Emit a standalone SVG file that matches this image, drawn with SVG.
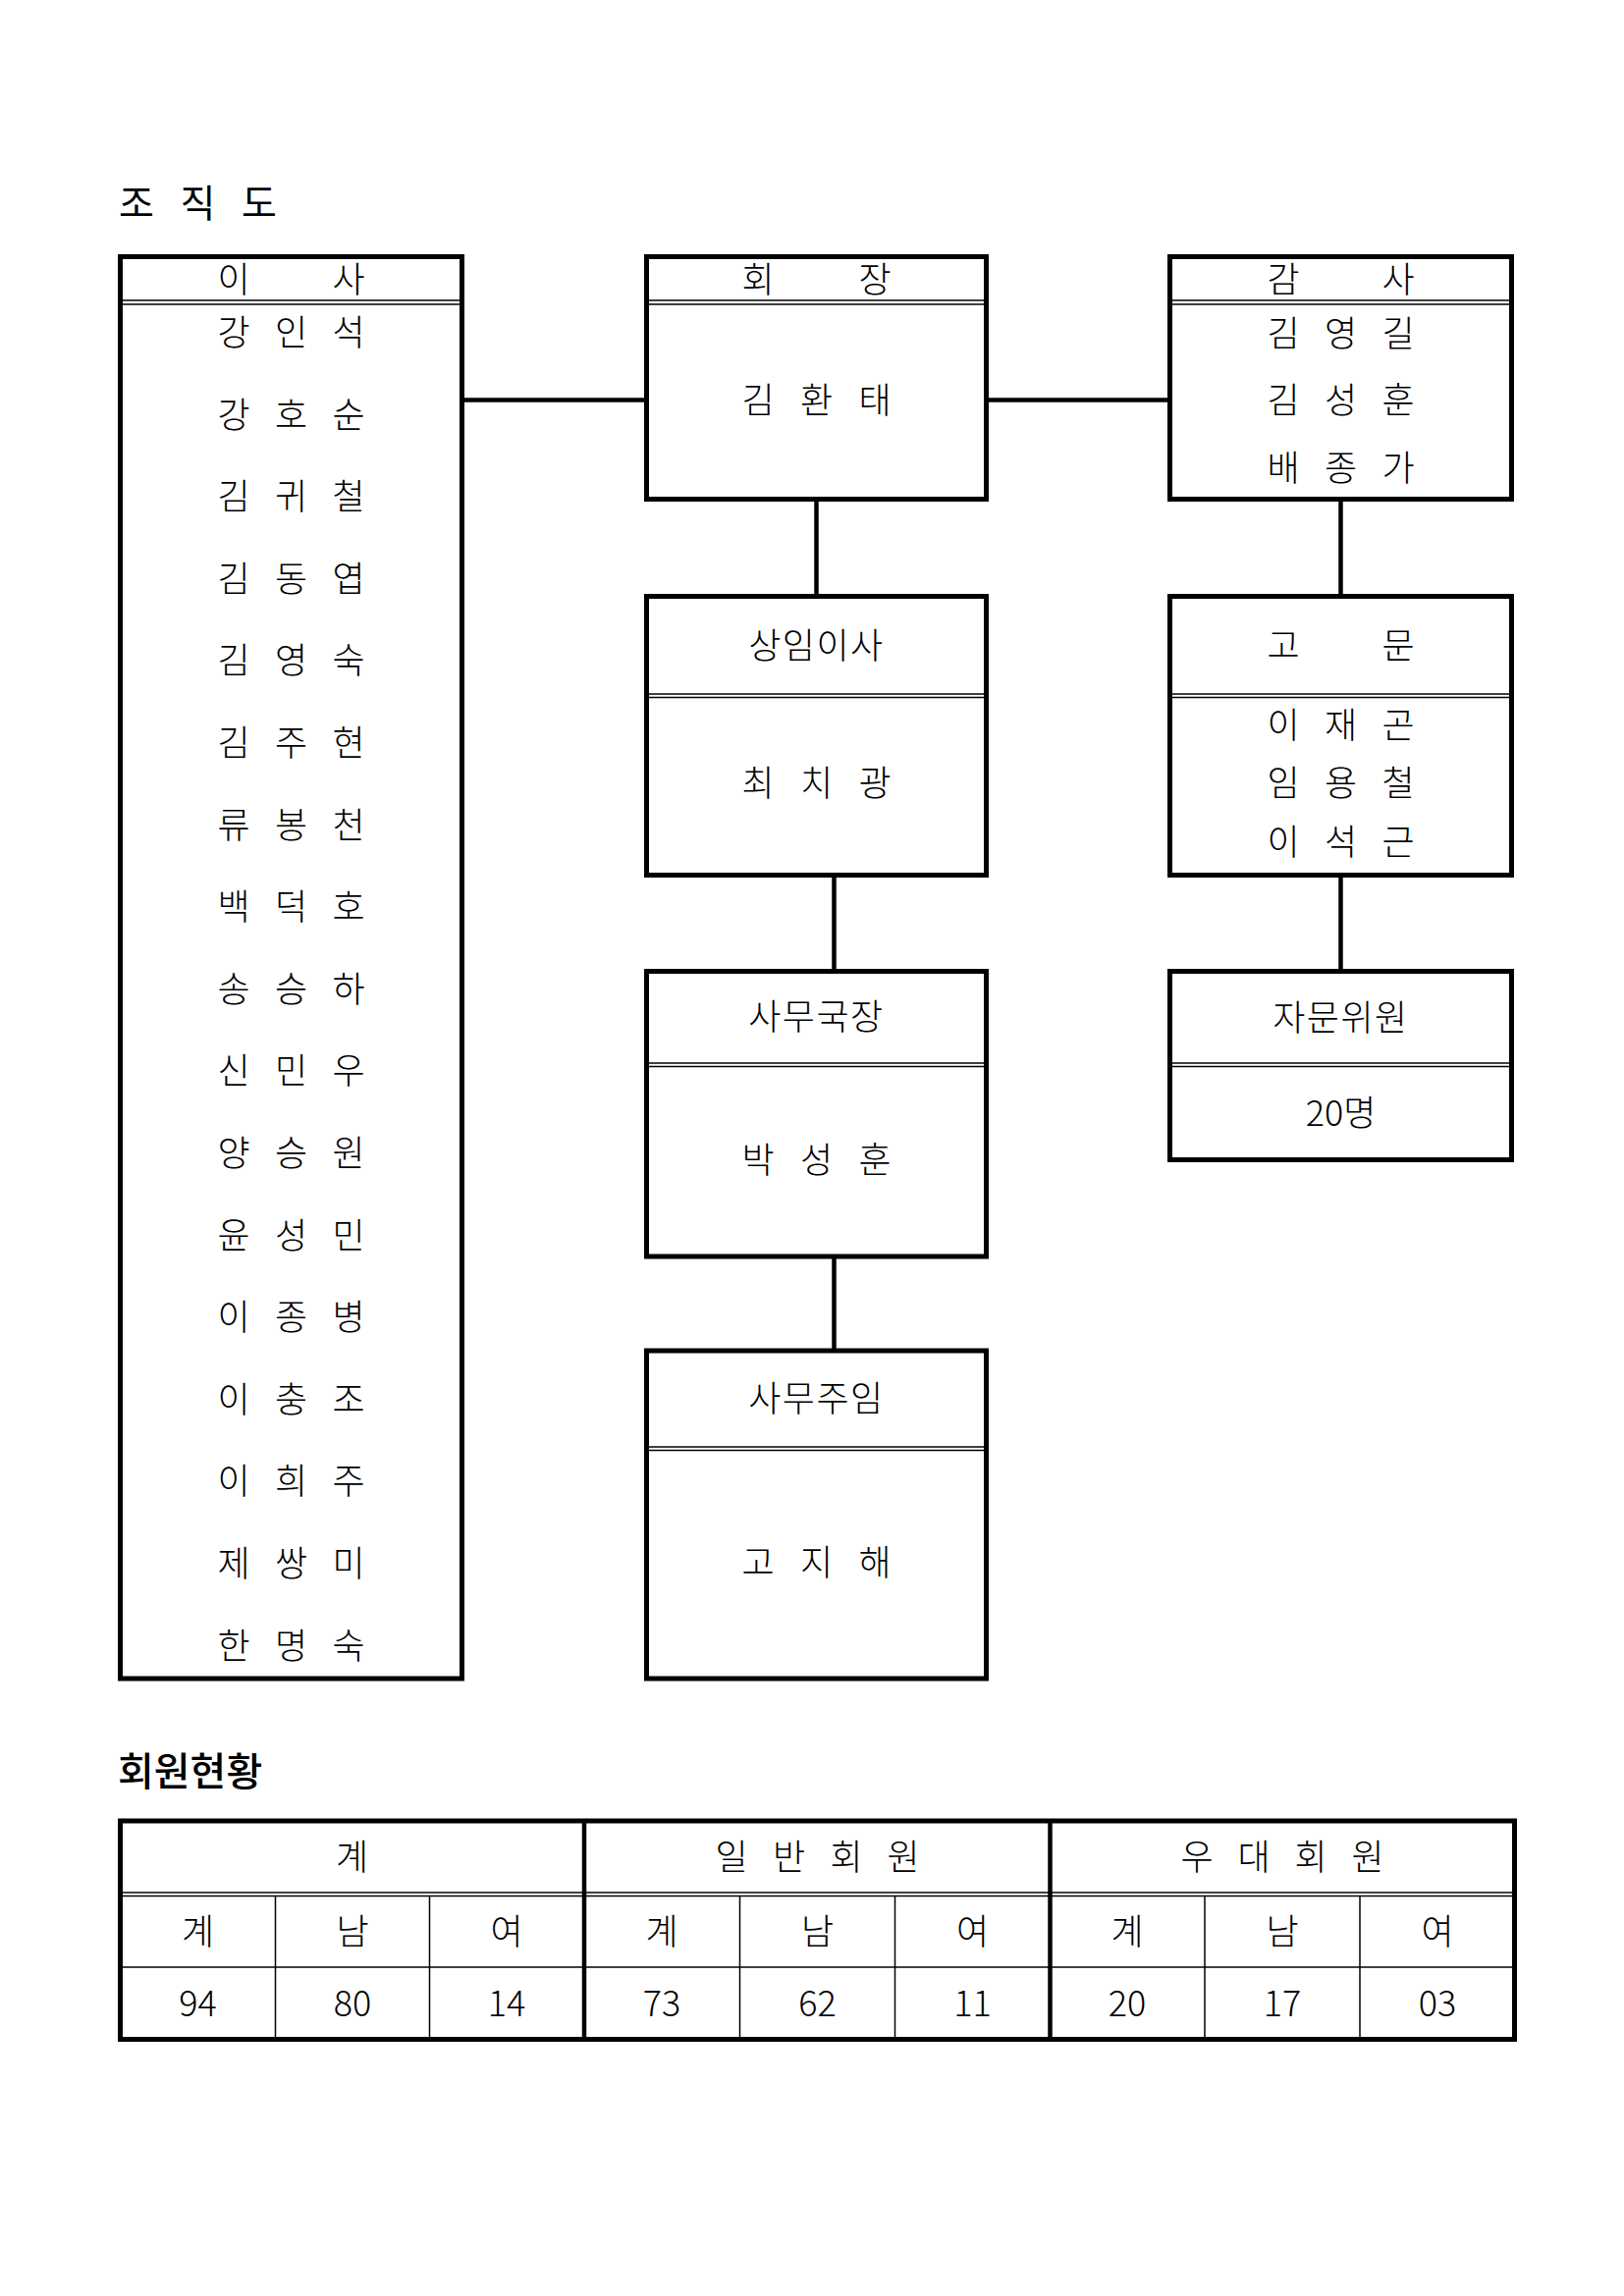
<svg xmlns="http://www.w3.org/2000/svg" width="1654" height="2339" viewBox="0 0 1654 2339">
<style>
.box{fill:none;stroke:#000;stroke-width:5}
.dl{stroke:#000;stroke-width:1.4;fill:none}
.thin{stroke:#000;stroke-width:1.5;fill:none}
.thick{stroke:#000;stroke-width:4.5;fill:none}
.conn{stroke:#000;stroke-width:4.5;fill:none}
.t{font-family:"Noto Sans CJK KR","Noto Sans CJK SC",sans-serif;font-size:36px;font-weight:300;text-anchor:middle;fill:#000}
.w{letter-spacing:1.5px}
.h{font-family:"Noto Sans CJK KR","Noto Sans CJK SC",sans-serif;fill:#000}
</style>
<rect width="1654" height="2339" fill="#fff"/>

<text class="h" x="139 170 201.5 232 264" y="221" font-size="39" font-weight="400" text-anchor="middle">조 직 도</text>

<g id="connectors">
<line class="conn" x1="470.5" y1="407.5" x2="658.5" y2="407.5"/>
<line class="conn" x1="1004.5" y1="407.5" x2="1191.5" y2="407.5"/>
<line class="conn" x1="831.5" y1="508.5" x2="831.5" y2="607.5"/>
<line class="conn" x1="1365.5" y1="508.5" x2="1365.5" y2="607.5"/>
<line class="conn" x1="849.5" y1="891.5" x2="849.5" y2="989.5"/>
<line class="conn" x1="1365.5" y1="891.5" x2="1365.5" y2="989.5"/>
<line class="conn" x1="849.5" y1="1280" x2="849.5" y2="1376"/>
</g>

<g id="node-isa">
<rect class="box" x="122.5" y="261.5" width="348" height="1448.5"/>
<line class="dl" x1="125" y1="306" x2="468" y2="306"/>
<line class="dl" x1="125" y1="310" x2="468" y2="310"/>
<text class="t" x="238 296.5 355" y="298">이 사</text>
<text class="t" x="238 267 296.5 326 355" y="352">강 인 석</text>
<text class="t" x="238 267 296.5 326 355" y="435.6">강 호 순</text>
<text class="t" x="238 267 296.5 326 355" y="519.2">김 귀 철</text>
<text class="t" x="238 267 296.5 326 355" y="602.8">김 동 엽</text>
<text class="t" x="238 267 296.5 326 355" y="686.4">김 영 숙</text>
<text class="t" x="238 267 296.5 326 355" y="770">김 주 현</text>
<text class="t" x="238 267 296.5 326 355" y="853.6">류 봉 천</text>
<text class="t" x="238 267 296.5 326 355" y="937.2">백 덕 호</text>
<text class="t" x="238 267 296.5 326 355" y="1020.8">송 승 하</text>
<text class="t" x="238 267 296.5 326 355" y="1104.4">신 민 우</text>
<text class="t" x="238 267 296.5 326 355" y="1188">양 승 원</text>
<text class="t" x="238 267 296.5 326 355" y="1271.6">윤 성 민</text>
<text class="t" x="238 267 296.5 326 355" y="1355.2">이 종 병</text>
<text class="t" x="238 267 296.5 326 355" y="1438.8">이 충 조</text>
<text class="t" x="238 267 296.5 326 355" y="1522.4">이 희 주</text>
<text class="t" x="238 267 296.5 326 355" y="1606">제 쌍 미</text>
<text class="t" x="238 267 296.5 326 355" y="1689.6">한 명 숙</text>
</g>

<g id="node-hoejang">
<rect class="box" x="658.5" y="261.5" width="346" height="247"/>
<line class="dl" x1="661" y1="306" x2="1002" y2="306"/>
<line class="dl" x1="661" y1="310" x2="1002" y2="310"/>
<text class="t" x="772 831.5 891" y="298">회 장</text>
<text class="t" x="772 802 831.5 861 891" y="421">김 환 태</text>
</g>

<g id="node-gamsa">
<rect class="box" x="1191.5" y="261.5" width="348" height="247"/>
<line class="dl" x1="1194" y1="306" x2="1537" y2="306"/>
<line class="dl" x1="1194" y1="310" x2="1537" y2="310"/>
<text class="t" x="1307 1365.5 1424" y="298">감 사</text>
<text class="t" x="1307 1336 1365.5 1395 1424" y="353">김 영 길</text>
<text class="t" x="1307 1336 1365.5 1395 1424" y="421">김 성 훈</text>
<text class="t" x="1307 1336 1365.5 1395 1424" y="490">배 종 가</text>
</g>

<g id="node-sangim">
<rect class="box" x="658.5" y="607.5" width="346" height="284"/>
<line class="dl" x1="661" y1="707" x2="1002" y2="707"/>
<line class="dl" x1="661" y1="710.5" x2="1002" y2="710.5"/>
<text class="t w" x="831.5" y="671">상임이사</text>
<text class="t" x="772 802 831.5 861 891" y="811">최 치 광</text>
</g>

<g id="node-gomun">
<rect class="box" x="1191.5" y="607.5" width="348" height="284"/>
<line class="dl" x1="1194" y1="707" x2="1537" y2="707"/>
<line class="dl" x1="1194" y1="710.5" x2="1537" y2="710.5"/>
<text class="t" x="1307 1365.5 1424" y="671">고 문</text>
<text class="t" x="1307 1336 1365.5 1395 1424" y="752">이 재 곤</text>
<text class="t" x="1307 1336 1365.5 1395 1424" y="811">임 용 철</text>
<text class="t" x="1307 1336 1365.5 1395 1424" y="871">이 석 근</text>
</g>

<g id="node-samugukjang">
<rect class="box" x="658.5" y="989.5" width="346" height="290.5"/>
<line class="dl" x1="661" y1="1083" x2="1002" y2="1083"/>
<line class="dl" x1="661" y1="1086.5" x2="1002" y2="1086.5"/>
<text class="t w" x="831.5" y="1049">사무국장</text>
<text class="t" x="772 802 831.5 861 891" y="1195">박 성 훈</text>
</g>

<g id="node-jamun">
<rect class="box" x="1191.5" y="989.5" width="348" height="192"/>
<line class="dl" x1="1194" y1="1083" x2="1537" y2="1083"/>
<line class="dl" x1="1194" y1="1086.5" x2="1537" y2="1086.5"/>
<text class="t w" x="1365.5" y="1050">자문위원</text>
<text class="t" x="1365.5" y="1147">20명</text>
</g>

<g id="node-samujuim">
<rect class="box" x="658.5" y="1376" width="346" height="334"/>
<line class="dl" x1="661" y1="1474" x2="1002" y2="1474"/>
<line class="dl" x1="661" y1="1477.5" x2="1002" y2="1477.5"/>
<text class="t w" x="831.5" y="1438">사무주임</text>
<text class="t" x="772 802 831.5 861 891" y="1605">고 지 해</text>
</g>

<text class="h" x="120" y="1819" font-size="40" font-weight="500">회원현황</text>

<g id="member-table">
<rect class="box" x="122.5" y="1855" width="1420" height="222.5"/>
<line class="dl" x1="125" y1="1928" x2="1540" y2="1928"/>
<line class="dl" x1="125" y1="1931.5" x2="1540" y2="1931.5"/>
<line class="thin" x1="125" y1="2004" x2="1540" y2="2004"/>
<line class="thin" x1="280.5" y1="1931.5" x2="280.5" y2="2075"/>
<line class="thin" x1="437.5" y1="1931.5" x2="437.5" y2="2075"/>
<line class="thin" x1="753.5" y1="1931.5" x2="753.5" y2="2075"/>
<line class="thin" x1="911.5" y1="1931.5" x2="911.5" y2="2075"/>
<line class="thin" x1="1227" y1="1931.5" x2="1227" y2="2075"/>
<line class="thin" x1="1385" y1="1931.5" x2="1385" y2="2075"/>
<line class="thick" x1="595" y1="1855" x2="595" y2="2077.5"/>
<line class="thick" x1="1069.5" y1="1855" x2="1069.5" y2="2077.5"/>
<text class="t" x="358.5" y="1905">계</text>
<text class="t" x="745 774 803.5 832.5 862 891 920" y="1905">일 반 회 원</text>
<text class="t" x="1219 1248 1277 1306 1335 1364 1393" y="1905">우 대 회 원</text>
<text class="t" x="201.5" y="1981">계</text>
<text class="t" x="359" y="1981">남</text>
<text class="t" x="516" y="1981">여</text>
<text class="t" x="674" y="1981">계</text>
<text class="t" x="832.5" y="1981">남</text>
<text class="t" x="990.5" y="1981">여</text>
<text class="t" x="1148" y="1981">계</text>
<text class="t" x="1306" y="1981">남</text>
<text class="t" x="1464" y="1981">여</text>
<text class="t" x="201.5" y="2054">94</text>
<text class="t" x="359" y="2054">80</text>
<text class="t" x="516" y="2054">14</text>
<text class="t" x="674" y="2054">73</text>
<text class="t" x="832.5" y="2054">62</text>
<text class="t" x="990.5" y="2054">11</text>
<text class="t" x="1148" y="2054">20</text>
<text class="t" x="1306" y="2054">17</text>
<text class="t" x="1464" y="2054">03</text>
</g>
</svg>
